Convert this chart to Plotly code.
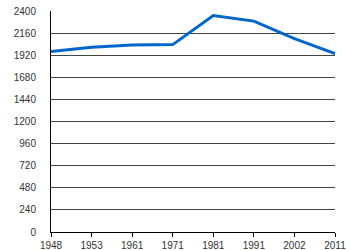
import plotly.graph_objects as go

years = ["1948", "1953", "1961", "1971", "1981", "1991", "2002", "2011"]
population = [1960, 2005, 2030, 2035, 2350, 2290, 2100, 1938]
y_ticks = [0, 240, 480, 720, 960, 1200, 1440, 1680, 1920, 2160, 2400]

fig = go.Figure()
fig.add_trace(go.Scatter(
    x=years, y=population, mode="lines",
    line=dict(color="#0066cc", width=3),
    hoverinfo="skip",
))

fig.update_layout(
    width=350, height=250,
    margin=dict(l=51, r=15, t=11, b=18),
    paper_bgcolor="white", plot_bgcolor="white",
    showlegend=False,
    font=dict(family="Liberation Sans, Arial, sans-serif", size=10, color="#333333"),
)
fig.update_xaxes(
    type="category", range=[0, 7], automargin=False,
    showgrid=False, showline=True, linecolor="black", linewidth=1,
    ticks="outside", ticklen=4, tickcolor="black", tickwidth=1,
    zeroline=False,
)
fig.update_yaxes(
    range=[0, 2400], tickvals=y_ticks, ticktext=[str(v) for v in y_ticks],
    automargin=False,
    showgrid=True, gridcolor="#444444", gridwidth=1,
    showline=True, linecolor="black", linewidth=1,
    ticks="outside", ticklen=0, ticklabelstandoff=12,
    zeroline=False,
)

fig.write_html("out.html")
